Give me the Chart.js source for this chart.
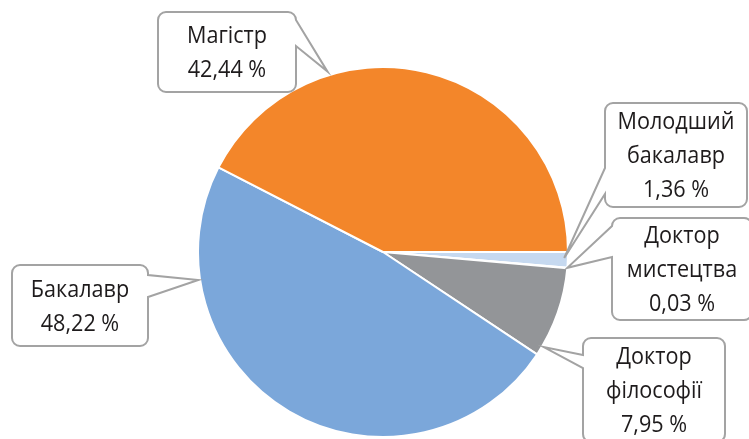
<!DOCTYPE html>
<html lang="uk">
<head>
<meta charset="UTF-8">
<title>Розподіл за ступенями</title>
<script src="https://cdn.jsdelivr.net/npm/chart.js"></script>
<style>
  html, body { margin: 0; padding: 0; background: #fff; }
  #wrap { width: 749px; height: 439px; position: relative; }
</style>
</head>
<body>
<div id="wrap"><canvas id="pie" width="749" height="439"></canvas></div>
<script>
// дані
const labels = ['Молодший\nбакалавр', 'Доктор\nмистецтва', 'Доктор\nфілософії', 'Бакалавр', 'Магістр'];
const values = [1.36, 0.03, 7.95, 48.22, 42.44];
const colors = ['#c6d9f0', '#3e5f8a', '#939598', '#7ba7da', '#f3862a'];

// виноски: прямокутник, основа "хвостика" на боці і кінець (кут у градусах, частка радіуса)
const callouts = [
  { box: [605, 103, 142, 104], side: 'left',  base: [168, 194], tip: [1.9, 0.98] },
  { box: [612, 218, 140, 102], side: 'left',  base: [226, 257], tip: [4.9, 1.0] },
  { box: [583, 338, 142, 104], side: 'left',  base: [355, 368], tip: [30.6, 1.01] },
  { box: [12, 265, 136, 81],   side: 'right', base: [275, 297], tip: [171.4, 1.01] },
  { box: [158, 12, 138, 80],   side: 'right', base: [20, 46],  tip: [-107.1, 1.02] }
];

function fmt(v) {
  return v.toFixed(2).replace('.', ',') + ' %';
}

const calloutPlugin = {
  id: 'callouts',
  afterDraw(chart) {
    const ctx = chart.ctx;
    const arc = chart.getDatasetMeta(0).data[0];
    const cx = arc.x, cy = arc.y, r = arc.outerRadius;
    ctx.save();
    callouts.forEach((c, i) => {
      const [x, y, w, h] = c.box;
      const rad = 8;
      const a = c.tip[0] * Math.PI / 180;
      const tx = cx + Math.cos(a) * r * c.tip[1];
      const ty = cy + Math.sin(a) * r * c.tip[1];
      ctx.beginPath();
      ctx.moveTo(x + rad, y);
      ctx.lineTo(x + w - rad, y);
      ctx.arcTo(x + w, y, x + w, y + rad, rad);
      if (c.side === 'right') {
        ctx.lineTo(x + w, c.base[0]);
        ctx.lineTo(tx, ty);
        ctx.lineTo(x + w, c.base[1]);
      }
      ctx.lineTo(x + w, y + h - rad);
      ctx.arcTo(x + w, y + h, x + w - rad, y + h, rad);
      ctx.lineTo(x + rad, y + h);
      ctx.arcTo(x, y + h, x, y + h - rad, rad);
      if (c.side === 'left') {
        ctx.lineTo(x, c.base[1]);
        ctx.lineTo(tx, ty);
        ctx.lineTo(x, c.base[0]);
      }
      ctx.lineTo(x, y + rad);
      ctx.arcTo(x, y, x + rad, y, rad);
      ctx.closePath();
      ctx.fillStyle = '#ffffff';
      ctx.fill();
      ctx.lineWidth = 2;
      ctx.strokeStyle = '#a3a3a3';
      ctx.stroke();

      // текст: трохи звужений шрифт, як в оригіналі
      const lines = labels[i].split('\n').concat([fmt(values[i])]);
      const lh = 34;
      const sx = 0.9;
      ctx.fillStyle = '#1e1b1c';
      ctx.font = '24px "Open Sans", "Noto Sans", sans-serif';
      ctx.textAlign = 'center';
      ctx.textBaseline = 'alphabetic';
      const mid = y + h / 2 + 8;
      lines.forEach((t, k) => {
        ctx.save();
        ctx.translate(x + w / 2, mid + (k - (lines.length - 1) / 2) * lh);
        ctx.scale(sx, 1);
        ctx.fillText(t, 0, 0);
        ctx.restore();
      });
    });
    ctx.restore();
  }
};

new Chart(document.getElementById('pie'), {
  type: 'pie',
  data: {
    labels: labels,
    datasets: [{
      data: values,
      backgroundColor: colors,
      borderColor: '#ffffff',
      borderWidth: 2
    }]
  },
  options: {
    responsive: false,
    animation: false,
    rotation: 90,
    layout: { padding: { left: 197, right: 180, top: 66, bottom: 1 } },
    plugins: {
      legend: { display: false },
      tooltip: { enabled: false }
    }
  },
  plugins: [calloutPlugin]
});
</script>
</body>
</html>
